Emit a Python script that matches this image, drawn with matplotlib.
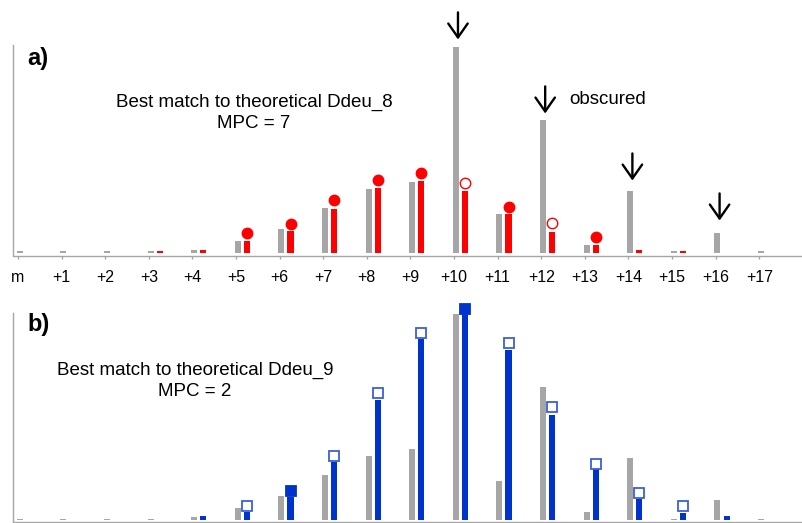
import numpy as np
import matplotlib
matplotlib.use('Agg')
import matplotlib.pyplot as plt

plt.rcParams['font.family'] = ['Liberation Sans', 'DejaVu Sans']

# data (intensity, % of the +10 peak)
labels = ['m'] + ['+%d' % i for i in range(1, 18)]
observed = [0.5, 0.5, 0.5, 0.5, 1.2, 5.4, 11.7, 21.5, 31.2, 34.6, 100, 19.0, 64.4, 3.9, 30.2, 0.5, 9.3, 0.5]
ddeu8 = [0, 0, 0, 0.5, 1.2, 5.4, 10.7, 21.0, 31.7, 35.1, 29.8, 19.0, 9.8, 3.9, 1.2, 0.5, 0, 0]
ddeu9 = [0, 0, 0, 0, 1.5, 3.6, 10.9, 28.1, 58.5, 88.1, 100, 82.9, 51.2, 24.4, 9.8, 3.3, 1.5, 0]

# circles on panel a
mark_a_pos = [5, 6, 7, 8, 9, 10, 11, 12, 13]
mark_a_val = [9.4, 14.1, 25.7, 35.5, 38.9, 33.7, 22.4, 14.5, 7.8]
mark_a_filled = [1, 1, 1, 1, 1, 0, 1, 0, 1]

# squares on panel b
mark_b_pos = [5, 6, 7, 8, 9, 10, 11, 12, 13, 14, 15]
mark_b_val = [6.8, 14.1, 30.9, 61.8, 90.9, 102.6, 86.2, 55.1, 27.3, 13.0, 6.5]
mark_b_filled = [0, 1, 0, 0, 0, 1, 0, 0, 0, 0, 0]

# arrows marking the observed peaks
arrow_pos = [10, 12, 14, 16]
arrow_tip = [103.9, 67.8, 35.1, 15.6]

GREY = '#a6a6a6'
RED = '#ff0000'
BLUE = '#0033cc'

x = np.arange(len(labels))
W, H = 802, 523
fig = plt.figure(figsize=(W / 100, H / 100), dpi=100)

def px_axes(left, top, right, bottom):
    return fig.add_axes([left / W, 1 - bottom / H, (right - left) / W, (bottom - top) / H])

axa = px_axes(13, 45, 802, 255.5)
axb = px_axes(13, 313, 802, 522)

for ax in (axa, axb):
    for s in ('top', 'right'):
        ax.spines[s].set_visible(False)
    for s in ('left', 'bottom'):
        ax.spines[s].set_color(GREY)
        ax.spines[s].set_linewidth(1.0)
    ax.set_xlim(-0.115, 17.98)
    ax.set_yticks([])
    ax.bar(x + 0.04, observed, width=0.14, color=GREY, linewidth=0)

# panel a
axa.set_ylim(-1.46, 101.2)
axa.bar(x + 0.25, ddeu8, width=0.14, color=RED, linewidth=0)
for p, v, f in zip(mark_a_pos, mark_a_val, mark_a_filled):
    axa.plot(p + 0.25, v, 'o', ms=7.5, mec=RED, mew=1.0,
             mfc=RED if f else 'white', clip_on=False, zorder=3)
axa.set_xticks(x)
axa.set_xticklabels(labels, fontsize=11.5)
axa.tick_params(axis='x', length=2.5, width=1.0, color=GREY, pad=8)
for p, t in zip(arrow_pos, arrow_tip):
    axa.annotate('', xy=(p + 0.09, t), xytext=(0, 19.5), textcoords='offset points',
                 annotation_clip=False,
                 arrowprops=dict(arrowstyle='->,head_length=0.5,head_width=0.35',
                                 lw=1.7, color='black', shrinkA=0, shrinkB=0,
                                 mutation_scale=20))
fig.text(569 / W, 1 - 100 / H, 'obscured', fontsize=13.5, ha='left', va='center')
fig.text(254 / W, 1 - 113 / H, 'Best match to theoretical Ddeu_8\nMPC = 7',
         fontsize=13.5, ha='center', va='center', linespacing=1.35)
fig.text(27 / W, 1 - 58.5 / H, 'a)', fontsize=17, fontweight='bold', ha='left', va='center')

# panel b
axb.set_ylim(-1.2, 100.7)
axb.bar(x + 0.25, ddeu9, width=0.14, color=BLUE, linewidth=0)
for p, v, f in zip(mark_b_pos, mark_b_val, mark_b_filled):
    axb.plot(p + 0.25, v, 's', ms=7.5, mec=BLUE if f else '#3a5fd9', mew=1.3,
             mfc=BLUE if f else 'white', clip_on=False, zorder=3)
axb.set_xticks([])
fig.text(195 / W, 1 - 381 / H, 'Best match to theoretical Ddeu_9\nMPC = 2',
         fontsize=13.5, ha='center', va='center', linespacing=1.35)
fig.text(27 / W, 1 - 324.5 / H, 'b)', fontsize=17, fontweight='bold', ha='left', va='center')

fig.savefig('out.png', dpi=100)
